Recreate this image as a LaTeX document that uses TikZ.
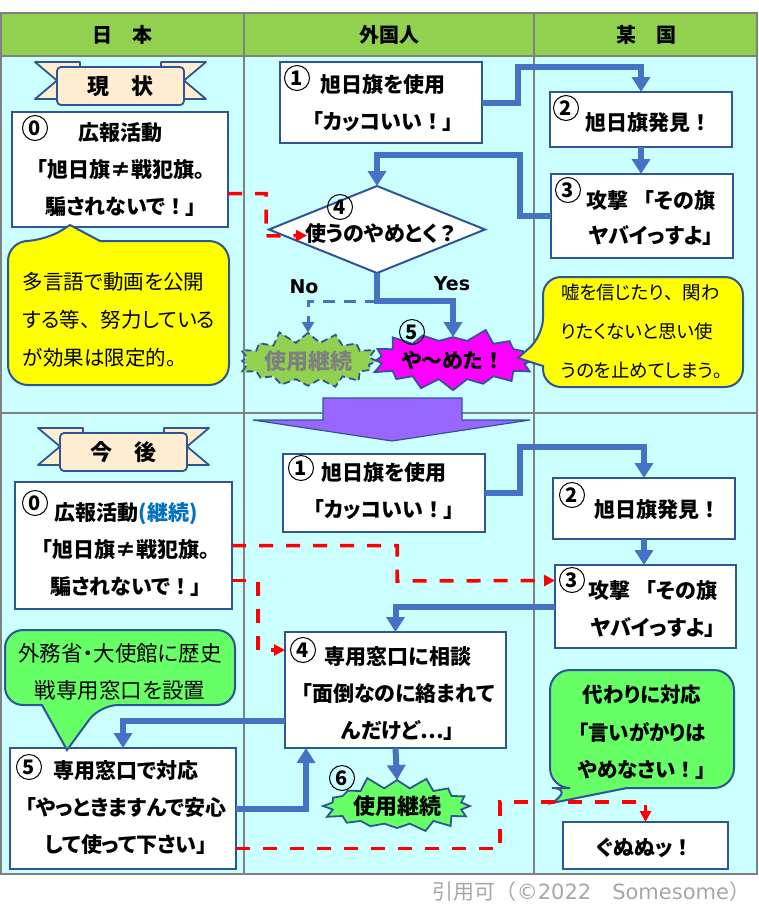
\documentclass[tikz,border=0pt]{standalone}
\usepackage{fontspec}
\setmainfont{Noto Sans CJK JP}[RawFeature=+palt]
\newfontfamily\jpfixed{Noto Sans CJK JP}
\newfontfamily\latinfont{DejaVu Sans}
\usetikzlibrary{arrows.meta,shapes.geometric,shapes.symbols}
\newcommand{\zw}[1]{{\jpfixed#1}}

\definecolor{headgreen}{HTML}{92D050}
\definecolor{bodycyan}{HTML}{CCFFFF}
\definecolor{edgeblue}{HTML}{2F5597}
\definecolor{flowblue}{HTML}{4472C4}
\definecolor{lightgreen}{HTML}{66FF66}
\definecolor{notebg}{HTML}{FFFF00}
\definecolor{burstpink}{HTML}{FF00FF}
\definecolor{ribbonfill}{HTML}{FFEDD0}
\definecolor{bigarrow}{HTML}{9966FF}
\definecolor{gridgray}{HTML}{808080}
\definecolor{textgray}{HTML}{7F7F7F}
\definecolor{creditgray}{HTML}{A6A6A6}
\definecolor{kakko}{HTML}{0070C0}

\begin{document}
\begin{tikzpicture}[x=1pt, y=-1pt,
	every node/.style={inner sep=0pt, outer sep=0pt},
	grid/.style={draw=gridgray, line width=2pt},
	head/.style={font=\jpfixed\fontsize{20}{20}\selectfont\bfseries},
	banner/.style={draw=edgeblue, line width=1.8pt, fill=ribbonfill, rounded corners=4pt, minimum width=127pt, minimum height=38pt, font=\jpfixed\fontsize{22}{22}\selectfont\bfseries},
	tail/.style={draw=edgeblue, line width=1.8pt, fill=ribbonfill, line join=round},
	box/.style={draw=edgeblue, line width=2pt, fill=white},
	boxtext/.style={align=center, font=\fontsize{21}{37}\selectfont\bfseries},
	note/.style={align=left, font=\fontsize{20.5}{38}\selectfont},
	callout/.style={draw=edgeblue, line width=2pt},
	num/.style={circle, draw, line width=1pt, minimum size=25pt, font=\fontsize{20}{20}\selectfont\bfseries},
	burst/.style={starburst, starburst points=16, starburst point height=13pt, draw=edgeblue, line width=1.8pt, font=\fontsize{22}{22}\selectfont\bfseries},
	flow/.style={draw=flowblue, line width=6pt, -{Triangle[width=18pt,length=15pt]}},
	noline/.style={draw=flowblue, line width=3pt, dash pattern=on 12pt off 9pt, -{Triangle[width=12pt,length=11pt]}},
	hint/.style={draw=red, line width=3.5pt, dash pattern=on 14pt off 13pt, -{Triangle[width=11pt,length=11pt]}},
	yesno/.style={font=\latinfont\fontsize{19}{19}\selectfont\bfseries}]
	\useasboundingbox (0,0) rectangle (759,908);

	% table
	\fill[headgreen] (1,13) rectangle (757,56);
	\fill[bodycyan] (1,56) rectangle (757,874);
	\draw[grid] (1,13) rectangle (757,874);
	\draw[grid] (1,56) -- (757,56);
	\draw[grid] (1,413) -- (757,413);
	\foreach \x in {244,534} \draw[grid] (\x,13) -- (\x,874);
	\foreach \x/\word/\nm in {122/日　本/hJapan, 389/外国人/hForeigner, 646/某　国/hCountry}
		\node[head] (\nm) at (\x,35) {\word};

	% ribbons
	\foreach \dx/\dy/\word/\nm in {0/0/現　状/rNow, 3/366/今　後/rLater} {
		\begin{scope}[shift={(\dx,\dy)}]
			\draw[tail] (35,62) -- (80,62) -- (80,99) -- (35,99) -- (57,80.5) -- cycle;
			\draw[tail] (206,62) -- (161,62) -- (161,99) -- (206,99) -- (184,80.5) -- cycle;
			\node[banner] (\nm) at (120.5,86) {\word};
		\end{scope}
	}

	% boxes, top half
	\node[box, minimum width=216pt, minimum height=115pt] (b0) at (120,169.5) {};
	\node[box, minimum width=202pt, minimum height=81pt] (b1) at (381,102.5) {};
	\node[box, minimum width=182pt, minimum height=55pt] (b2) at (641,119.5) {};
	\node[box, minimum width=182pt, minimum height=84pt] (b3) at (642,216) {};
	\node[box, diamond, minimum width=216pt, minimum height=87pt] (d4) at (377,229.5) {};

	\node[boxtext] (t0) at (121,170) {広報活動\\「旭日旗≠戦犯旗。\\騙されないで\zw{！}」};
	\node[boxtext] (t1) at (383,103.5) {旭日旗を使用\\「カッコいい\zw{！}」};
	\node[boxtext] (t2) at (648,123) {旭日旗発見\zw{！}};
	\node[boxtext] (t3) at (651,217.5) {攻撃 \zw{「}その旗\\[-2pt]ヤバイっすよ」};
	\node[boxtext] (t4) at (382,233) {使うのやめとく\zw{？}};
	\node[yesno] (yes) at (452,284) {Yes};
	\node[yesno] (no) at (304,287) {No};

	\node[burst, fill=headgreen, dash pattern=on 7pt off 4pt, text=textgray, minimum width=143pt, minimum height=63pt, random starburst=11] (sA) at (308,361) {使用継続};
	\node[burst, fill=burstpink, font=\fontsize{21}{21}\selectfont\bfseries, minimum width=147pt, minimum height=65pt, random starburst=23] (sB) at (453,360) {や～めた\zw{！}};

	\draw[callout, fill=notebg] (100,241) [rounded corners=20pt] -- (229,241) -- (229,385) -- (8,385) -- (8,241) -- (45,241) [sharp corners] -- (70,225) -- cycle;
	\node[note, anchor=west] (yA) at (23,320) {多言語で動画を公開\\する等\zw{、}努力している\\が効果は限定的\zw{。}};
	\draw[callout, fill=notebg] (543,366) [rounded corners=18pt] -- (543,387) -- (743,387) -- (743,277) -- (543,277) -- (543,336) [sharp corners] -- (518,358) -- cycle;
	\node[note, anchor=west, font=\fontsize{18.5}{39}\selectfont] (yB) at (561,331) {嘘を信じたり\zw{、}関わ\\りたくないと思い使\\うのを止めてしまう\zw{。}};

	\draw[draw=edgeblue, line width=1.2pt, fill=bigarrow] (323,398) -- (462,398) -- (462,420) -- (530,420) -- (392,441) -- (253,420) -- (323,420) -- cycle;

	% boxes, bottom half
	\node[box, minimum width=217pt, minimum height=127pt] (b0b) at (123.5,545.5) {};
	\node[box, minimum width=202pt, minimum height=78pt] (b1b) at (384,493) {};
	\node[box, minimum width=182pt, minimum height=61pt] (b2b) at (644,508.5) {};
	\node[box, minimum width=181pt, minimum height=83pt] (b3b) at (645.5,606.5) {};
	\node[box, minimum width=221pt, minimum height=116pt] (b4b) at (395.5,690) {};
	\node[box, minimum width=226pt, minimum height=121pt] (b5b) at (123,808.5) {};
	\node[box, minimum width=165pt, minimum height=47pt] (b6) at (645.5,845.5) {};

	\node[boxtext] (t0b) at (126,550) {広報活動{\color{kakko}(継続)}\\「旭日旗≠戦犯旗。\\騙されないで\zw{！}」};
	\node[boxtext] (t1b) at (384,491) {旭日旗を使用\\「カッコいい\zw{！}」};
	\node[boxtext] (t2b) at (657,510) {旭日旗発見\zw{！}};
	\node[boxtext] (t3b) at (653,608.5) {攻撃 \zw{「}その旗\\ヤバイっすよ」};
	\node[boxtext] (t4b) at (398,693.5) {専用窓口に相談\\「面倒なのに絡まれて\\んだけど…」};
	\node[boxtext] (t5b) at (126,808) {専用窓口で対応\\「やっときますんで安心\\して使って下さい」};
	\node[boxtext] (t6) at (645,848) {ぐぬぬッ\zw{！}};

	\node[burst, fill=lightgreen, minimum width=157pt, minimum height=62pt, random starburst=5] (sC) at (397,806) {使用継続};

	\draw[callout, fill=lightgreen] (42,705) [rounded corners=18pt] -- (5,705) -- (5,630) -- (235,630) -- (235,705) -- (100,705) [sharp corners] -- (67,750) -- cycle;
	\node[note, align=center, font=\fontsize{21.5}{37}\selectfont] (gA) at (120,671.5) {外務省・大使館に歴史\\戦専用窓口を設置};
	\draw[callout, fill=lightgreen] (627,788) [rounded corners=20pt] -- (734,788) -- (734,670) -- (550,670) -- (550,788) -- (572,788) [sharp corners] -- (552,803) -- cycle;
	\node[boxtext, font=\fontsize{20.5}{37.5}\selectfont\bfseries] (gB) at (642,732.5) {代わりに対応\\「言いがかりは\\やめなさい\zw{！}」};

	% connectors, top half
	\coordinate (kA1) at (518,67);
	\coordinate (kA2) at (520,155);
	\coordinate (kA3) at (266,236);
	\coordinate (kA4) at (377,301);
	\draw[flow] (b1.east) -| (kA1) -| (b2.north);
	\draw[flow] (b2.south) -- (b2.south |- b3.north);
	\draw[flow] (b3.west) -| (kA2) -| (d4.north);
	\draw[hint] ([yshift=-24pt]b0.east) -| (kA3) -- ([xshift=38pt,yshift=-6pt]d4.west);
	\draw[noline] (kA4) -| (sA.north);
	\draw[flow] (d4.south) -- (kA4) -| (sB.north);

	% connectors, bottom half
	\coordinate (kB1) at (520,447);
	\coordinate (kB2) at (397,581);
	\coordinate (kB3) at (258,650);
	\coordinate (kB4) at (500,802);
	\draw[flow] (b1b.east) -| (kB1) -| (b2b.north);
	\draw[flow] (b2b.south) -- (b2b.south |- b3b.north);
	\draw[flow] (b3b.west) -| (b4b.north);
	\draw[hint] (b0b.east) -| (kB2) -- ([yshift=26pt]b3b.west);
	\draw[hint] ([yshift=-35pt]b0b.east) -| (kB3) -- ([yshift=40pt]b4b.west);
	\draw[flow] ([yshift=-31pt]b4b.west) -| (b5b.north);
	\draw[flow] (b5b.east) -| ([xshift=-89.5pt]b4b.south);
	\draw[flow] (b4b.south) -- (sC.north);
	\draw[hint] ([yshift=-40pt]b5b.east) -| (kB4) -| (b6.north);

	% circled step numbers
	\foreach \x/\y/\d/\nm in {35/128/0/nA0, 297/78/1/nA1, 566/108/2/nA2, 568/190/3/nA3, 340/207/4/nA4, 412/332/5/nA5,
		35/503/0/nB0, 301/468/1/nB1, 572/495/2/nB2, 572/580/3/nB3, 303/650/4/nB4, 29/767/5/nB5, 342/778/6/nB6}
		\node[num] (\nm) at (\x,\y) {\d};

	\node[anchor=east, text=creditgray, font=\jpfixed\fontsize{21}{21}\selectfont] (credit) at (750,892) {引用可（{\latinfont ©2022}　{\latinfont Somesome}）};
\end{tikzpicture}
\end{document}
